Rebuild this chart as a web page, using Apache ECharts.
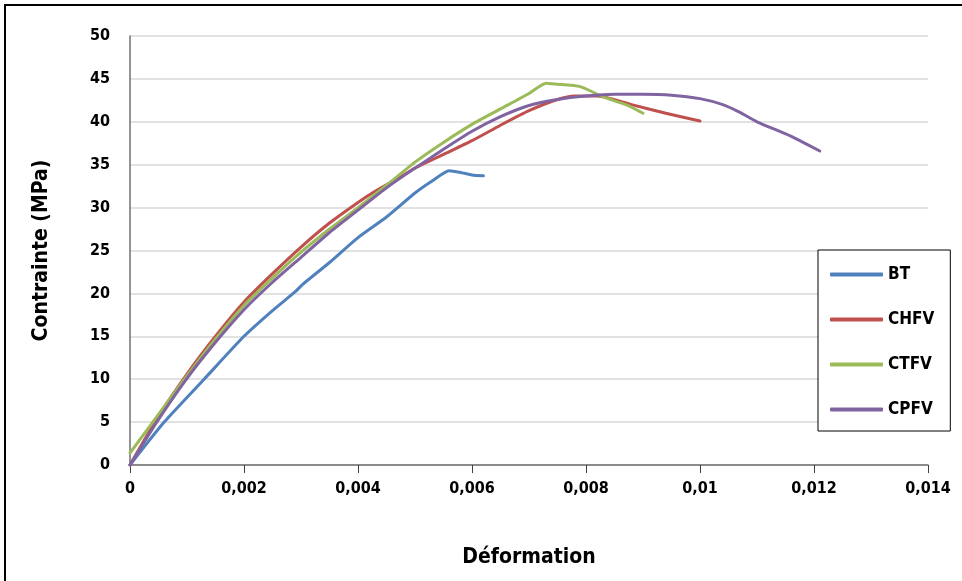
<!DOCTYPE html>
<html>
<head>
<meta charset="utf-8">
<script src="https://cdn.jsdelivr.net/npm/echarts@6/dist/echarts.min.js"></script>
<style>
  html, body { margin: 0; padding: 0; background: #fff; }
  #chart { width: 962px; height: 581px; }
</style>
</head>
<body>
<div id="chart"></div>
<script>
// Stress–strain curves (strain, stress in MPa) for each concrete mix
const seriesNames = ['BT', 'CHFV', 'CTFV', 'CPFV'];
const seriesColors = ['#4F81BD', '#C0504D', '#9BBB59', '#8064A2'];

const strainBT = [0, 0.0006, 0.0013, 0.002, 0.0025, 0.0029, 0.00302, 0.0035, 0.004, 0.0045, 0.005, 0.0053, 0.0056, 0.0058, 0.006, 0.0062];
const stressBT = [0, 5, 10, 15, 18, 20.2, 21.0, 23.6, 26.5, 28.9, 31.7, 33.1, 34.3, 34.1, 33.8, 33.7];

const strainCHFV = [0, 0.0005, 0.001, 0.0015, 0.002, 0.0025, 0.003, 0.0035, 0.004, 0.0043, 0.0047, 0.005, 0.0055, 0.006, 0.0065, 0.007, 0.0075, 0.0078, 0.0082, 0.0088, 0.0094, 0.01];
const stressCHFV = [0, 5.7, 10.6, 15.0, 19.0, 22.3, 25.4, 28.2, 30.6, 31.9, 33.4, 34.6, 36.2, 37.8, 39.6, 41.3, 42.6, 43.0, 43.0, 42.0, 41.0, 40.1];

const strainCTFV = [0, 0.0004, 0.001, 0.0015, 0.002, 0.0025, 0.003, 0.0035, 0.004, 0.0045, 0.005, 0.0055, 0.006, 0.0065, 0.007, 0.0073, 0.00745, 0.0079, 0.0083, 0.0087, 0.009];
const stressCTFV = [1.4, 5.0, 10.4, 14.7, 18.6, 21.8, 24.8, 27.5, 30.0, 32.6, 35.3, 37.6, 39.7, 41.5, 43.3, 44.5, 44.4, 44.1, 42.9, 42.0, 41.0];

const strainCPFV = [0, 0.0005, 0.001, 0.0015, 0.002, 0.0025, 0.003, 0.0035, 0.004, 0.0045, 0.005, 0.0055, 0.006, 0.0065, 0.007, 0.0075, 0.008, 0.0085, 0.009, 0.0095, 0.01, 0.0104, 0.0107, 0.011, 0.0116, 0.0121];
const stressCPFV = [0, 5.3, 10.1, 14.3, 18.1, 21.3, 24.2, 27.1, 29.7, 32.3, 34.6, 36.8, 38.9, 40.6, 41.9, 42.6, 43.0, 43.2, 43.2, 43.1, 42.7, 42.0, 41.1, 40.0, 38.3, 36.6];

const xTicks = { min: 0, max: 0.014, interval: 0.002 };
const yTicks = { min: 0, max: 50, interval: 5 };

const zip = (xs, ys) => xs.map((x, i) => [x, ys[i]]);
const curves = [
  zip(strainBT, stressBT),
  zip(strainCHFV, stressCHFV),
  zip(strainCTFV, stressCTFV),
  zip(strainCPFV, stressCPFV)
];

const FONT = '"DejaVu Sans Condensed", "Liberation Sans", sans-serif';

const chart = echarts.init(document.getElementById('chart'), null, { renderer: 'canvas' });

chart.setOption({
  animation: false,
  backgroundColor: '#fff',
  color: seriesColors,
  grid: { left: 130, right: 34, top: 36, bottom: 116, containLabel: false },
  graphic: [
    {
      type: 'polyline',
      shape: { points: [[5, 600], [5, 5], [980, 5]] },
      style: { stroke: '#000', lineWidth: 2, fill: null },
      silent: true
    }
  ],
  legend: {
    orient: 'vertical',
    left: 818,
    top: 250,
    padding: [16, 16, 13, 12],
    itemGap: 28,
    itemWidth: 53,
    itemHeight: 4,
    icon: 'roundRect',
    borderColor: '#000',
    borderWidth: 1,
    backgroundColor: '#fff',
    textStyle: { fontFamily: FONT, fontWeight: 'bold', fontSize: 17, color: '#000' },
    data: seriesNames
  },
  xAxis: {
    type: 'value',
    min: xTicks.min,
    max: xTicks.max,
    interval: xTicks.interval,
    name: 'Déformation',
    nameLocation: 'middle',
    nameGap: 82,
    nameTextStyle: { fontFamily: FONT, fontWeight: 'bold', fontSize: 21, color: '#000' },
    axisLine: { lineStyle: { color: '#6f6f6f', width: 1.5 } },
    axisTick: { show: true, inside: false, length: 8, lineStyle: { color: '#404040', width: 1 } },
    axisLabel: {
      margin: 16,
      fontFamily: FONT, fontWeight: 'bold', fontSize: 16, color: '#000',
      formatter: v => String(Number(v.toFixed(4))).replace('.', ',')
    },
    splitLine: { show: false }
  },
  yAxis: {
    type: 'value',
    min: yTicks.min,
    max: yTicks.max,
    interval: yTicks.interval,
    name: 'Contrainte (MPa)',
    nameLocation: 'middle',
    nameGap: 78,
    nameRotate: 90,
    nameTextStyle: { fontFamily: FONT, fontWeight: 'bold', fontSize: 21, color: '#000' },
    axisLine: { show: true, lineStyle: { color: '#6f6f6f', width: 1.5 } },
    axisTick: { show: false },
    axisLabel: { margin: 20, fontFamily: FONT, fontWeight: 'bold', fontSize: 16, color: '#000' },
    splitLine: { show: true, lineStyle: { color: '#d9d9d9', width: 1.5 } }
  },
  series: seriesNames.map((name, i) => ({
    name,
    type: 'line',
    data: curves[i],
    showSymbol: false,
    smooth: 0.2,
    lineStyle: { width: 3, color: seriesColors[i], cap: 'round', join: 'round' },
    itemStyle: { color: seriesColors[i] },
    z: 2 + i
  }))
});
</script>
</body>
</html>
